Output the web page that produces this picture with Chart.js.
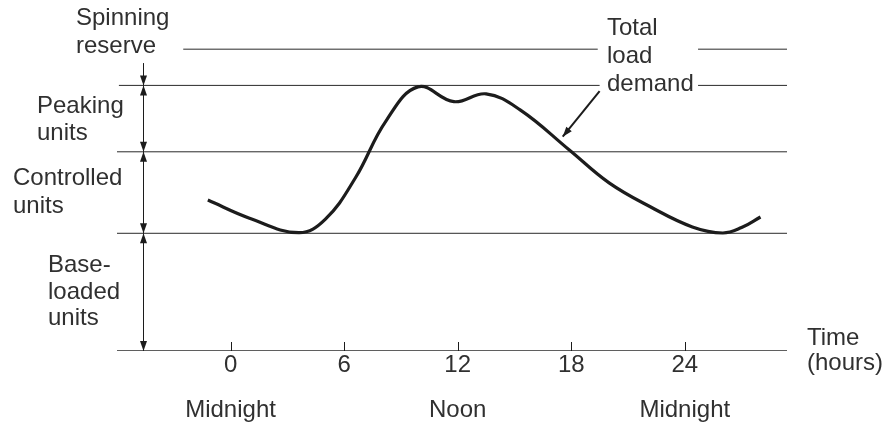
<!DOCTYPE html>
<html>
<head>
<meta charset="utf-8">
<script src="https://cdn.jsdelivr.net/npm/chart.js@4"></script>
<style>
  html, body { margin: 0; padding: 0; background: #fff; overflow: hidden; }
  .chart__wrapper { width: 893px; height: 425px; position: relative; }
</style>
</head>
<body>
<div class="chart__wrapper"><canvas id="loadChart"></canvas></div>
<script>
"use strict";

// x axis (hours) ticks and notes under them
const tickHours = [0, 6, 12, 18, 24];
const tickNotes = ["Midnight", "", "Noon", "", "Midnight"];

// total load demand curve
const demandHours = [-1.2, 1.0, 3.6, 5.0, 6.6, 8.2, 9.9, 11.8, 13.5, 15.3, 17.9, 20.0, 22.2, 24.4, 26.0, 27.0, 28.0];
const demandLoad = [50.0, 44.0, 39.2, 43.6, 57.4, 76.1, 87.5, 82.6, 85.2, 79.9, 66.6, 55.7, 47.7, 41.1, 39.1, 40.9, 44.4];

// capacity levels: axis, base-loaded, controlled, peaking, spinning reserve
const levelValues = [0, 39, 66, 88, 100];
// hour spans for each level line (gaps leave room for the "Total load demand" label)
const levelSpans = [
  [[-6, 29.4]],
  [[-6, 29.4]],
  [[-6, 29.4]],
  [[-5.9, 19.5], [24.7, 29.4]],
  [[-2.5, 19.4], [24.7, 29.4]],
];

const arrowHour = -4.6;
const spinningArrowStart = 95.4;
const demandArrow = [[19.5, 86.1], [17.55, 71]];

const INK = "#1c1c1c";
const TEXT = "#303030";
const FONT = "24px 'Liberation Sans', Arial, sans-serif";

const levelDatasets = levelValues.map((value, index) => {
  const points = [];
  levelSpans[index].forEach((span, i) => {
    if (i > 0) points.push({ x: (span[0] + levelSpans[index][i - 1][1]) / 2, y: null });
    points.push({ x: span[0], y: value }, { x: span[1], y: value });
  });
  return {
    data: points,
    borderColor: "#2a2a2a",
    borderWidth: index === 0 ? 1.5 : 1,
    pointRadius: 0,
    spanGaps: false,
    tension: 0,
  };
});

const drawArrowHead = (ctx, x1, y1, x2, y2) => {
  const angle = Math.atan2(y2 - y1, x2 - x1);
  const len = 10;
  const half = 3.5;
  ctx.beginPath();
  ctx.moveTo(x2, y2);
  ctx.lineTo(x2 - len * Math.cos(angle) + half * Math.sin(angle), y2 - len * Math.sin(angle) - half * Math.cos(angle));
  ctx.lineTo(x2 - len * Math.cos(angle) - half * Math.sin(angle), y2 - len * Math.sin(angle) + half * Math.cos(angle));
  ctx.closePath();
  ctx.fill();
};

const drawArrow = (ctx, x1, y1, x2, y2, both, width) => {
  ctx.lineWidth = width;
  ctx.beginPath();
  ctx.moveTo(x1, y1);
  ctx.lineTo(x2, y2);
  ctx.stroke();
  drawArrowHead(ctx, x1, y1, x2, y2);
  if (both) drawArrowHead(ctx, x2, y2, x1, y1);
};

const drawLines = (ctx, lines, x, y, step) => {
  lines.forEach((line, i) => ctx.fillText(line, x, y + i * step));
};

const annotations = {
  id: "annotations",
  afterDraw(chart) {
    const { ctx } = chart;
    const xs = chart.scales.x;
    const ys = chart.scales.y;
    const axisY = ys.getPixelForValue(0);

    ctx.save();
    ctx.strokeStyle = INK;
    ctx.fillStyle = INK;

    // small upward tick marks
    ctx.lineWidth = 1;
    tickHours.forEach((h) => {
      const px = Math.round(xs.getPixelForValue(h)) + 0.5;
      ctx.beginPath();
      ctx.moveTo(px, axisY);
      ctx.lineTo(px, axisY - 9);
      ctx.stroke();
    });

    // vertical arrows between levels
    const ax = Math.round(xs.getPixelForValue(arrowHour)) + 0.5;
    drawArrow(ctx, ax, ys.getPixelForValue(spinningArrowStart), ax, ys.getPixelForValue(levelValues[3]), false, 1);
    for (let i = 0; i < 3; i++) {
      drawArrow(ctx, ax, ys.getPixelForValue(levelValues[i + 1]), ax, ys.getPixelForValue(levelValues[i]), true, 1);
    }

    // arrow pointing at the demand curve
    drawArrow(
      ctx,
      xs.getPixelForValue(demandArrow[0][0]), ys.getPixelForValue(demandArrow[0][1]),
      xs.getPixelForValue(demandArrow[1][0]), ys.getPixelForValue(demandArrow[1][1]),
      false, 2
    );

    // texts
    ctx.fillStyle = TEXT;
    ctx.font = FONT;
    ctx.textBaseline = "alphabetic";
    ctx.textAlign = "left";
    drawLines(ctx, ["Spinning", "reserve"], 76, 25, 28);
    drawLines(ctx, ["Peaking", "units"], 37, 113, 27);
    drawLines(ctx, ["Controlled", "units"], 13, 185, 28);
    drawLines(ctx, ["Base-", "loaded", "units"], 48, 272, 26.5);
    drawLines(ctx, ["Total", "load", "demand"], 607, 35, 28);
    drawLines(ctx, ["Time", "(hours)"], 807, 345, 25);

    ctx.textAlign = "center";
    tickHours.forEach((h, i) => {
      const px = xs.getPixelForValue(h);
      ctx.fillText(String(h), px, axisY + 21);
      if (tickNotes[i]) ctx.fillText(tickNotes[i], px, axisY + 66);
    });
    ctx.restore();
  },
};

new Chart(document.getElementById("loadChart").getContext("2d"), {
  type: "line",
  data: {
    datasets: [
      {
        data: demandHours.map((h, i) => ({ x: h, y: demandLoad[i] })),
        borderColor: INK,
        borderWidth: 3.2,
        pointRadius: 0,
        tension: 0.4,
        borderCapStyle: "butt",
      },
      ...levelDatasets,
    ],
  },
  options: {
    responsive: true,
    maintainAspectRatio: false,
    animation: false,
    layout: { padding: { left: 117, right: 106, top: 19, bottom: 74 } },
    plugins: { legend: { display: false }, tooltip: { enabled: false } },
    scales: {
      x: { type: "linear", min: -6, max: 29.4, display: false },
      y: { type: "linear", min: 0, max: 110, display: false },
    },
  },
  plugins: [annotations],
});
</script>
</body>
</html>
